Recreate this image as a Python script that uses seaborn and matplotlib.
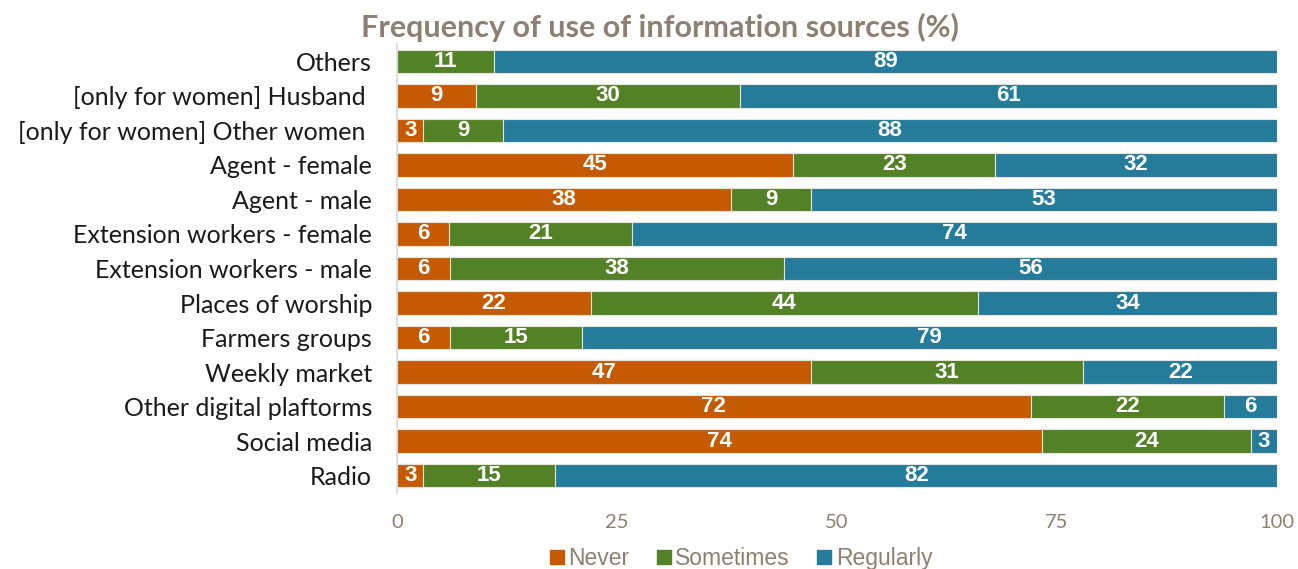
import matplotlib
matplotlib.use("Agg")
import matplotlib.pyplot as plt
import seaborn as sns
import pandas as pd
import numpy as np
from matplotlib.patches import Patch

categories = ["Others", "[only for women] Husband ", "[only for women] Other women ",
              "Agent - female", "Agent - male", "Extension workers - female",
              "Extension workers - male", "Places of worship", "Farmers groups",
              "Weekly market", "Other digital plaftorms", "Social media", "Radio"]
never = [0, 9, 3, 45, 38, 6, 6, 22, 6, 47, 72, 74, 3]
sometimes = [11, 30, 9, 23, 9, 21, 38, 44, 15, 31, 22, 24, 15]
regularly = [89, 61, 88, 32, 53, 74, 56, 34, 79, 22, 6, 3, 82]
series_names = ["Never", "Sometimes", "Regularly"]
colors = ["#C55A00", "#538226", "#247B9A"]
xticks = [0, 25, 50, 75, 100]

sns.set_theme(style="white")
plt.rcParams['font.family'] = ['Lato', 'DejaVu Sans']

df = pd.DataFrame({"cat": categories, "Never": never, "Sometimes": sometimes, "Regularly": regularly})
tot = df[series_names].sum(axis=1)
for s in series_names:
    df[s + "_p"] = df[s] / tot * 100
df["c1"] = df["Never_p"]
df["c2"] = df["Never_p"] + df["Sometimes_p"]
df["c3"] = df["c2"] + df["Regularly_p"]

fig = plt.figure(figsize=(12.98, 5.69), dpi=100)
ax = fig.add_axes([0.3059, 0.1336, 0.6779, 0.7891])

for col, c in zip(["c3", "c2", "c1"], colors[::-1]):
    sns.barplot(data=df, x=col, y="cat", color=c, orient="h", ax=ax,
                width=0.68, edgecolor="#E8E4DC", linewidth=0.8, saturation=1)

for i, row in df.iterrows():
    starts = [0, row["c1"], row["c2"]]
    for s, st in zip(series_names, starts):
        v = row[s]
        w = row[s + "_p"]
        if v > 0:
            ax.text(st + w / 2, i, f"{v:g}", ha="center", va="center", color="white",
                    fontsize=16, fontweight="bold", family="Liberation Sans")

ax.set_xlim(0, 100)
ax.set_ylim(12.5, -0.5)
ax.set_xticks(xticks)
ax.set_xticklabels([str(t) for t in xticks])
ax.tick_params(axis="x", colors="#8C8070", labelsize=14.5, pad=15, length=0)
ax.tick_params(axis="y", labelsize=18, colors="#1a1a1a", length=0, pad=18)
ax.set_xlabel("")
ax.set_ylabel("")
for sp in ["top", "right", "bottom"]:
    ax.spines[sp].set_visible(False)
ax.spines["left"].set_color("#D9D9D9")
ax.spines["left"].set_linewidth(1.2)

fig.text(0.5085, 0.952, "Frequency of use of information sources (%)", ha="center", va="center",
         fontsize=22, fontweight="bold", color="#8C8070")

handles = [Patch(facecolor=c, edgecolor=c) for c in colors]
leg = fig.legend(handles, series_names, loc="center", bbox_to_anchor=(0.571, 0.018), ncol=3,
                 frameon=False, handlelength=0.6, handleheight=0.6, handletextpad=0.2,
                 columnspacing=1.2, prop={"family": "Liberation Sans", "size": 16.5})
for t in leg.get_texts():
    t.set_color("#8C8070")

fig.savefig("out.png", dpi=100)
